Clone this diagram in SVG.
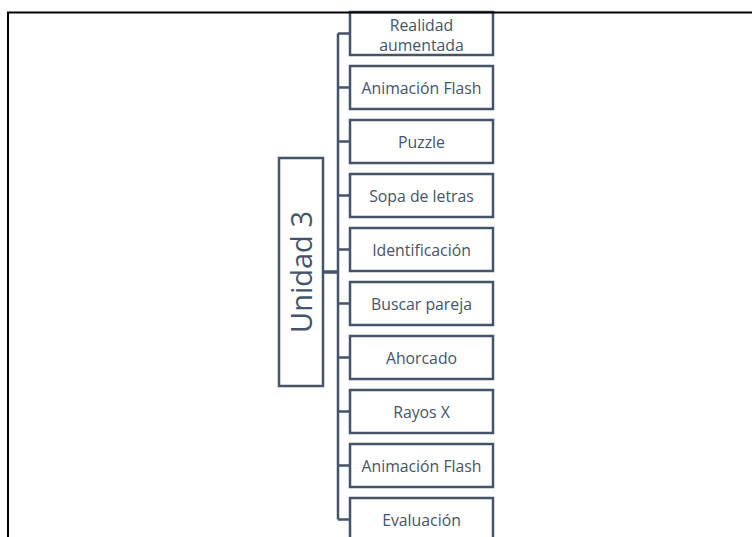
<svg xmlns="http://www.w3.org/2000/svg" width="752" height="537" viewBox="0 0 752 537">
<style>
.box{fill:#fff;stroke:#44546A;stroke-width:2.5}
.t{font-family:"Open Sans","Liberation Sans",sans-serif;font-size:15.8px;fill:#44546A;text-anchor:middle}
.big{font-family:"Open Sans","Liberation Sans",sans-serif;font-size:29px;fill:#44546A;text-anchor:middle}
.con{stroke:#44546A;stroke-width:2.5;fill:none}
</style>
<rect width="752" height="537" fill="#fff"/>
<g id="connectors">
<path class="con" d="M338,33.5V519.5"/>
<path class="con" d="M338,33.5H350M338,87.5H350M338,141.5H350M338,195.5H350M338,249.5H350M338,303.5H350M338,357.5H350M338,411.5H350M338,465.5H350M338,519.5H350"/>
<path class="con" style="stroke-width:3.5" d="M323,272H338"/>
</g>
<g id="unidad3"><rect class="box" x="279" y="158" width="44" height="228"/><text class="big" transform="translate(312,272) rotate(-90)">Unidad 3</text></g>
<g id="n1"><rect class="box" x="350" y="12" width="143" height="43"/><text class="t" x="421.5" y="30.5">Realidad</text><text class="t" x="421.5" y="50.5">aumentada</text></g>
<g id="n2"><rect class="box" x="350" y="66" width="143" height="43"/><text class="t" x="421.5" y="94">Animación Flash</text></g>
<g id="n3"><rect class="box" x="350" y="120" width="143" height="43"/><text class="t" x="421.5" y="148">Puzzle</text></g>
<g id="n4"><rect class="box" x="350" y="174" width="143" height="43"/><text class="t" x="421.5" y="202">Sopa de letras</text></g>
<g id="n5"><rect class="box" x="350" y="228" width="143" height="43"/><text class="t" x="421.5" y="256">Identificación</text></g>
<g id="n6"><rect class="box" x="350" y="282" width="143" height="43"/><text class="t" x="421.5" y="310">Buscar pareja</text></g>
<g id="n7"><rect class="box" x="350" y="336" width="143" height="43"/><text class="t" x="421.5" y="364">Ahorcado</text></g>
<g id="n8"><rect class="box" x="350" y="390" width="143" height="43"/><text class="t" x="421.5" y="418">Rayos X</text></g>
<g id="n9"><rect class="box" x="350" y="444" width="143" height="43"/><text class="t" x="421.5" y="472">Animación Flash</text></g>
<g id="n10"><rect class="box" x="350" y="498" width="143" height="43"/><text class="t" x="421.5" y="526">Evaluación</text></g>
<path d="M8,537V12.5H752" fill="none" stroke="#000" stroke-width="2"/>
</svg>
